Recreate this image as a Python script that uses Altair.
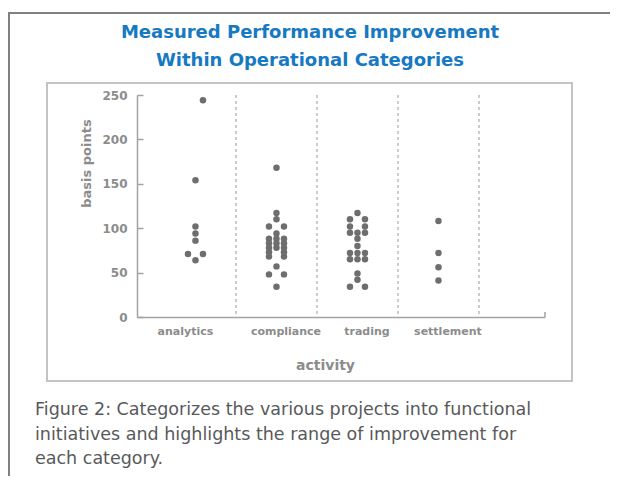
import altair as alt
import pandas as pd

# ---------------- data ----------------
categories = ["analytics", "compliance", "trading", "settlement"]

analytics_bp = [244, 154, 102, 94, 86, 71, 71, 64]
analytics_col = [1, 0, 0, 0, 0, -1, 1, 0]

compliance_bp = [168, 117, 110, 102, 102, 94, 88, 88, 88, 83, 83, 83, 78, 78, 78,
                 73, 73, 68, 68, 57, 48, 48, 34]
compliance_col = [0, 0, 0, -1, 1, 0, -1, 0, 1, -1, 0, 1, -1, 0, 1,
                  -1, 1, -1, 1, 0, -1, 1, 0]

trading_bp = [117, 110, 110, 102, 102, 95, 95, 95, 88, 80, 72, 72, 72, 65, 65, 65,
              49, 42, 34, 34]
trading_col = [0, -1, 1, -1, 1, -1, 0, 1, 0, 0, -1, 0, 1, -1, 0, 1,
               0, 0, -1, 1]

settlement_bp = [108, 72, 56, 41]
settlement_col = [0, 0, 0, 0]

y_ticks = [0, 50, 100, 150, 200, 250]

title_lines = ["Measured Performance Improvement", "Within Operational Categories"]
caption_lines = [
    "Figure 2: Categorizes the various projects into functional",
    "initiatives and highlights the range of improvement for",
    "each category.",
]

# ---------------- tables ----------------
rows = []
for cat, vals, cols in [
    ("analytics", analytics_bp, analytics_col),
    ("compliance", compliance_bp, compliance_col),
    ("trading", trading_bp, trading_col),
    ("settlement", settlement_bp, settlement_col),
]:
    for v, c in zip(vals, cols):
        rows.append({"activity": cat, "bp": v, "col": c})
df = pd.DataFrame(rows)
cat_df = pd.DataFrame({"activity": categories})
one = pd.DataFrame({"k": [0]})

W, H = 408, 222
GREY = "#8c8c8c"
AXIS = "#a3a3a3"
FONT = "DejaVu Sans"

xscale = alt.Scale(type="band", domain=categories, paddingInner=0,
                   paddingOuter=0.5185, align=0.214)
yscale = alt.Scale(domain=[0, 250], nice=False)

xaxis = alt.Axis(
    title="activity", orient="bottom", ticks=False, grid=False,
    domainColor=AXIS, domainWidth=1.5, labelAngle=0, labelPadding=8,
    labelFont=FONT, labelFontWeight="bold", labelFontSize=11, labelColor=GREY,
    labelOffset=alt.condition("datum.value == 'analytics'", alt.value(-10), alt.value(9.5)),
    titleFont=FONT, titleFontWeight="bold", titleFontSize=14, titleColor=GREY,
    titleX=188, titleY=48, titleBaseline="middle", titleAlign="center",
)

# frames
outer_top = alt.Chart(one).mark_rule(color="#808080", strokeWidth=2).encode(
    x=alt.value(-129), x2=alt.value(473), y=alt.value(-82))
outer_left = alt.Chart(one).mark_rule(color="#808080", strokeWidth=2).encode(
    x=alt.value(-128), y=alt.value(-82), y2=alt.value(381))
inner_box = alt.Chart(one).mark_rect(fillOpacity=0, stroke="#c4c4c4", strokeWidth=2).encode(
    x=alt.value(-90), x2=alt.value(435), y=alt.value(-12), y2=alt.value(286))
end_tick = alt.Chart(one).mark_rule(color=AXIS, strokeWidth=1.5).encode(
    x=alt.value(W), y=alt.value(H - 5), y2=alt.value(H))

# dashed separators at right edge of each category band
rules = alt.Chart(cat_df).mark_rule(color="#9a9a9a", strokeDash=[3, 3], strokeWidth=1).encode(
    x=alt.X("activity:N", bandPosition=1, scale=xscale, sort=categories, axis=xaxis)
)

points = alt.Chart(df).mark_circle(size=42, color="#6e6e6e", opacity=1).encode(
    x=alt.X("activity:N", scale=xscale, sort=categories, axis=xaxis),
    xOffset=alt.XOffset("col:Q", scale=alt.Scale(domain=[-1, 1], range=[33, 48], nice=False)),
    y=alt.Y(
        "bp:Q", scale=yscale,
        axis=alt.Axis(
            title="basis points", orient="left", values=y_ticks, ticks=False, grid=False,
            domainColor=AXIS, domainWidth=1.5, labelPadding=10,
            labelFont=FONT, labelFontWeight="bold", labelFontSize=12, labelColor=GREY,
            titleFont=FONT, titleFontWeight="bold", titleFontSize=13, titleColor=GREY,
            titleX=-47, titleY=68, titleAlign="center", titleBaseline="alphabetic",
        ),
    ),
)

# inward-pointing tick marks on the value axis
inward = alt.Chart(df).mark_circle(opacity=0).encode(
    y=alt.Y("bp:Q", scale=yscale,
            axis=alt.Axis(orient="right", offset=-W, values=y_ticks, labels=False,
                          domain=False, grid=False, ticks=True, tickSize=6,
                          tickColor=AXIS, tickWidth=1.5, title=None))
)

layers = [outer_top, outer_left, inner_box, end_tick, rules, points, inward]

for i, line in enumerate(title_lines):
    layers.append(
        alt.Chart(one).mark_text(font=FONT, fontWeight="bold", fontSize=18,
                                 color="#1679c2", align="center", baseline="middle").encode(
            x=alt.value(173), y=alt.value(-62 + 28 * i), text=alt.value(line))
    )
for i, line in enumerate(caption_lines):
    layers.append(
        alt.Chart(one).mark_text(font=FONT, fontSize=17.5, color="#58595b",
                                 align="left", baseline="middle").encode(
            x=alt.value(-102), y=alt.value(315 + 24.5 * i), text=alt.value(line))
    )

chart = alt.layer(*layers).resolve_axis(y="independent").properties(
    width=W, height=H,
    autosize="none",
    padding={"left": 129, "top": 87, "right": 65, "bottom": 159},
    background="white",
).configure_view(stroke=None)

chart.save("out.html", embed_options={"renderer": "svg", "actions": False})
